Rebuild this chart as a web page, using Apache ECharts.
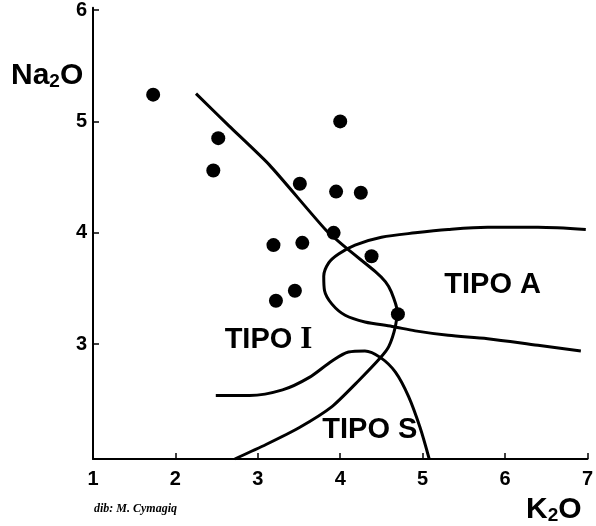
<!DOCTYPE html>
<html>
<head>
<meta charset="utf-8">
<script src="https://cdn.jsdelivr.net/npm/echarts@6/dist/echarts.min.js"></script>
<style>
  html, body { margin: 0; padding: 0; background: #fff; }
  #chart { width: 596px; height: 526px; }
</style>
</head>
<body>
<div id="chart"></div>
<script>
// Axis ticks
const k2oTicks = [1, 2, 3, 4, 5, 6, 7];
const na2oTicks = [3, 4, 5, 6];

// Granite samples (K2O, Na2O wt%)
const sampleK2O  = [1.73, 2.52, 2.46, 4.00, 3.51, 3.95, 4.25, 3.92, 3.19, 3.54, 4.38, 3.45, 3.22, 4.70];
const sampleNa2O = [5.24, 4.85, 4.56, 5.00, 4.44, 4.37, 4.36, 4.00, 3.89, 3.91, 3.79, 3.48, 3.39, 3.27];

// Boundary between type I and the others (diagonal, bending down to the K2O axis)
const boundaryIK2O  = [2.25, 2.65, 3.14, 3.82, 4.08, 4.43, 4.55, 4.62, 4.69, 4.67, 4.59, 4.49, 4.22, 3.90, 3.50, 3.10, 2.72];
const boundaryINa2O = [5.25, 4.96, 4.61, 4.03, 3.86, 3.65, 3.56, 3.47, 3.30, 3.16, 2.98, 2.88, 2.67, 2.44, 2.25, 2.10, 1.97];

// Type A field (open loop towards high K2O)
const fieldAK2O  = [6.98, 6.40, 5.79, 5.31, 4.91, 4.50, 4.18, 3.98, 3.86, 3.80, 3.81, 3.90, 4.06, 4.30, 4.63, 4.91, 5.31, 5.79, 6.40, 6.92];
const fieldANa2O = [4.03, 4.05, 4.05, 4.03, 4.00, 3.96, 3.89, 3.81, 3.73, 3.61, 3.48, 3.36, 3.26, 3.20, 3.16, 3.12, 3.08, 3.05, 2.99, 2.94];

// Type S field (hump closing on the K2O axis)
const fieldSK2O  = [2.49, 2.90, 3.30, 3.62, 3.90, 4.10, 4.30, 4.49, 4.67, 4.83, 4.97, 5.08];
const fieldSNa2O = [2.54, 2.54, 2.59, 2.70, 2.85, 2.93, 2.94, 2.88, 2.75, 2.53, 2.25, 1.97];

// Field names and where they sit (K2O, Na2O)
const fieldNames = ['TIPO A', 'TIPO I', 'TIPO S'];
const fieldNameK2O  = [5.85, 3.13, 4.36];
const fieldNameNa2O = [3.53, 3.04, 2.23];

const pairs = (xs, ys) => xs.map((x, i) => [x, ys[i]]);

const ink = '#000';
const sans = '"Liberation Sans", Arial, Helvetica, sans-serif';
const serif = '"Liberation Serif", "DejaVu Serif", serif';

function curve(name, xs, ys, smooth) {
  return {
    name: name,
    type: 'line',
    data: pairs(xs, ys),
    smooth: smooth,
    symbol: 'none',
    lineStyle: { color: ink, width: 3, opacity: 1 },
    clip: true,
    z: 2,
    silent: true
  };
}

const chart = echarts.init(document.getElementById('chart'), null, { renderer: 'canvas' });

chart.setOption({
  animation: false,
  backgroundColor: '#fff',
  grid: { left: 93, right: 6, top: 4, bottom: 67, containLabel: false },
  xAxis: {
    type: 'value',
    min: k2oTicks[0],
    max: k2oTicks[k2oTicks.length - 1],
    interval: 1,
    axisLine: { show: true, onZero: false, lineStyle: { color: ink, width: 2 } },
    axisTick: { show: true, inside: true, length: 6, lineStyle: { color: ink, width: 1.5 } },
    axisLabel: {
      show: true, color: ink, fontSize: 20, fontWeight: 'bold', fontFamily: sans, margin: 10,
      customValues: k2oTicks
    },
    splitLine: { show: false }
  },
  yAxis: {
    type: 'value',
    min: 1.97,
    max: 6.02,
    axisLine: { show: true, onZero: false, lineStyle: { color: ink, width: 2 } },
    axisTick: { show: true, inside: true, length: 6, lineStyle: { color: ink, width: 1.5 }, customValues: na2oTicks },
    axisLabel: {
      show: true, color: ink, fontSize: 20, fontWeight: 'bold', fontFamily: sans, margin: 6,
      customValues: na2oTicks
    },
    splitLine: { show: false }
  },
  graphic: [
    {
      type: 'text', left: 11, top: 61, silent: true,
      style: {
        text: '{a|Na}{s|2}{a|O}',
        rich: {
          a: { fontSize: 30, fontWeight: 'bold', fontFamily: sans, fill: ink, lineHeight: 34, verticalAlign: 'bottom' },
          s: { fontSize: 19, fontWeight: 'bold', fontFamily: sans, fill: ink, lineHeight: 16, verticalAlign: 'bottom' }
        }
      }
    },
    {
      type: 'text', left: 526, top: 495, silent: true,
      style: {
        text: '{a|K}{s|2}{a|O}',
        rich: {
          a: { fontSize: 30, fontWeight: 'bold', fontFamily: sans, fill: ink, lineHeight: 34, verticalAlign: 'bottom' },
          s: { fontSize: 19, fontWeight: 'bold', fontFamily: sans, fill: ink, lineHeight: 16, verticalAlign: 'bottom' }
        }
      }
    },
    {
      type: 'text', left: 94, top: 503, silent: true,
      style: {
        text: 'dib: M. Cymagiq',
        fontSize: 12, fontStyle: 'italic', fontWeight: 'bold', fontFamily: serif,
        fill: ink
      }
    }
  ],
  series: [
    curve('Limite I', boundaryIK2O, boundaryINa2O, 0.2),
    curve('Campo A', fieldAK2O, fieldANa2O, 0.3),
    curve('Campo S', fieldSK2O, fieldSNa2O, 0.3),
    {
      name: 'Campioni',
      type: 'scatter',
      data: pairs(sampleK2O, sampleNa2O),
      symbol: 'circle',
      symbolSize: 14,
      itemStyle: { color: ink, opacity: 1 },
      z: 4,
      silent: true
    },
    {
      name: 'Tipi',
      type: 'scatter',
      data: fieldNames.map((n, i) => ({ name: n, value: [fieldNameK2O[i], fieldNameNa2O[i]] })),
      symbolSize: 0,
      itemStyle: { opacity: 1 },
      z: 5,
      silent: true,
      label: {
        show: true,
        position: 'inside',
        opacity: 1,
        formatter: p => p.name === 'TIPO I' ? '{t|TIPO }{r|I}' : '{t|' + p.name + '}',
        rich: {
          t: { fontSize: 29, fontWeight: 'bold', fontFamily: sans, color: ink, opacity: 1 },
          r: { fontSize: 31, fontWeight: 'bold', fontFamily: serif, color: ink, opacity: 1 }
        }
      }
    }
  ]
});
</script>
</body>
</html>
